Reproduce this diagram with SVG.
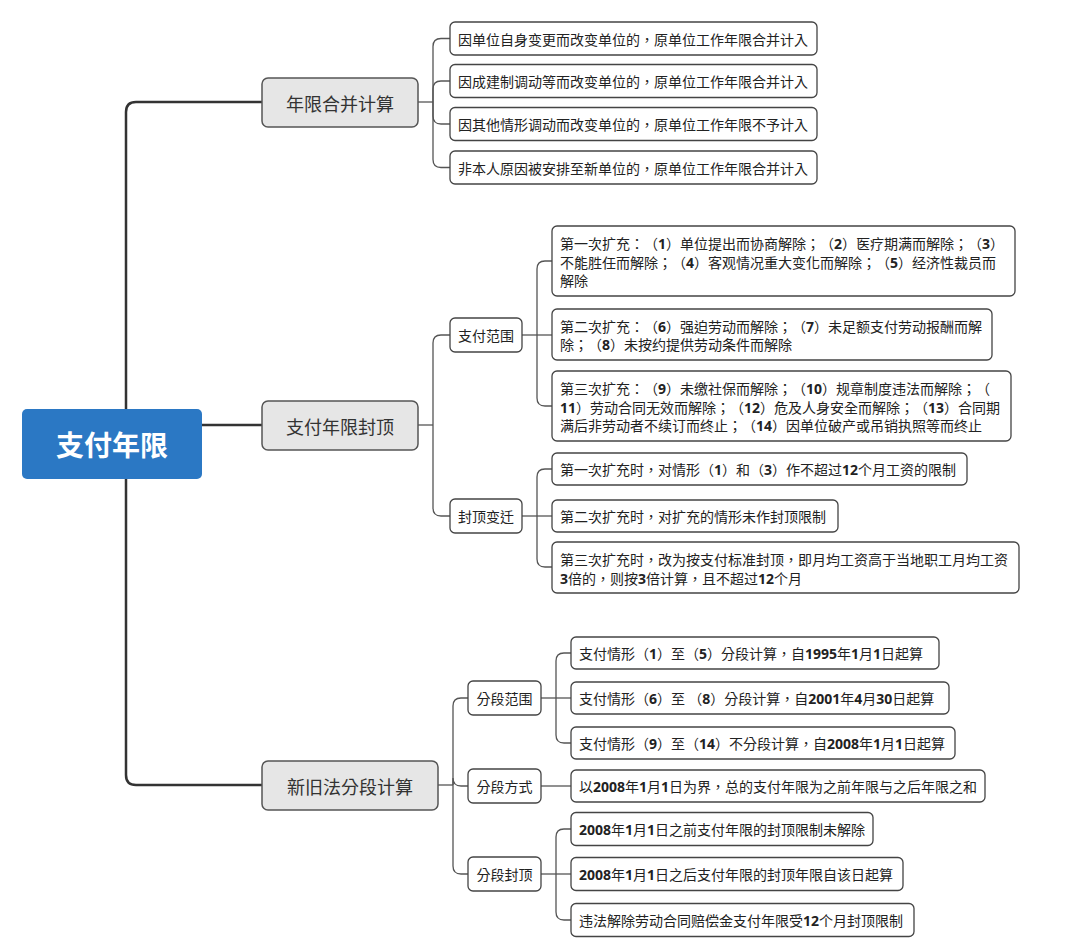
<svg xmlns="http://www.w3.org/2000/svg" width="1080" height="952" viewBox="0 0 1080 952">
<style>
text{font-family:"Noto Sans CJK TC","Noto Sans CJK SC","Noto Sans",sans-serif;text-spacing-trim:space-all;}
.root{fill:#2b78c4;}
.rt{fill:#ffffff;font-size:28px;font-weight:700;text-anchor:middle;dominant-baseline:central;}
.l2{fill:#e6e6e6;stroke:#555555;stroke-width:1.5;}
.l2t{fill:#333333;font-size:18px;text-anchor:middle;dominant-baseline:central;}
.box{fill:#ffffff;stroke:#444444;stroke-width:1.3;}
.ct{fill:#222222;font-size:14px;text-anchor:middle;dominant-baseline:central;}
.t{fill:#222222;font-size:14px;dominant-baseline:central;}
.n{font-family:"Open Sans","Noto Sans",sans-serif;font-weight:700;}
.spine{fill:none;stroke:#333333;stroke-width:2.5;}
.c{fill:none;stroke:#555555;stroke-width:1.3;}
</style>
<rect width="1080" height="952" fill="#ffffff"/>
<g id="connectors">
<path class="spine" d="M262,102 H136 Q126,102 126,112 V775 Q126,785 136,785 H262"/>
<path class="spine" d="M202,425 H262"/>
<path class="c" d="M418,102 H433"/>
<path class="c" d="M433,102 V46.5 Q433,38.5 441,38.5 H450"/>
<path class="c" d="M433,102 V89 Q433,81 441,81 H450"/>
<path class="c" d="M433,102 V116 Q433,124 441,124 H450"/>
<path class="c" d="M433,102 V159.5 Q433,167.5 441,167.5 H450"/>
<path class="c" d="M418,425 H433"/>
<path class="c" d="M433,425 V343 Q433,335 441,335 H450"/>
<path class="c" d="M433,425 V508 Q433,516 441,516 H450"/>
<path class="c" d="M522,335 H552"/>
<path class="c" d="M537,335 V269 Q537,261 545,261 H552"/>
<path class="c" d="M537,335 V398 Q537,406 545,406 H552"/>
<path class="c" d="M522,516 H552"/>
<path class="c" d="M537,516 V477 Q537,469 545,469 H552"/>
<path class="c" d="M537,516 V559 Q537,567 545,567 H552"/>
<path class="c" d="M438,785 H453"/>
<path class="c" d="M453,785 V706 Q453,698 461,698 H468"/>
<path class="c" d="M453,785 V778 Q453,786 461,786 H468"/>
<path class="c" d="M453,785 V866 Q453,874 461,874 H468"/>
<path class="c" d="M541,698 H571"/>
<path class="c" d="M556,698 V661 Q556,653 564,653 H571"/>
<path class="c" d="M556,698 V735 Q556,743 564,743 H571"/>
<path class="c" d="M541,786 H571"/>
<path class="c" d="M541,874 H571"/>
<path class="c" d="M556,874 V837 Q556,829 564,829 H571"/>
<path class="c" d="M556,874 V912 Q556,920 564,920 H571"/>
</g>
<g id="root">
<rect class="root" x="22" y="409" width="180" height="70" rx="5"/>
<text class="rt" x="112" y="444">支付年限</text>
</g>
<g id="n-nianxian">
<rect class="l2" x="262" y="78" width="156" height="49" rx="6"/>
<text class="l2t" x="340" y="102.5">年限合并计算</text>
</g>
<g id="n-fengding">
<rect class="l2" x="262" y="401" width="156" height="49" rx="6"/>
<text class="l2t" x="340" y="425.5">支付年限封顶</text>
</g>
<g id="n-fenduan">
<rect class="l2" x="262" y="761" width="176" height="49" rx="6"/>
<text class="l2t" x="350" y="785.5">新旧法分段计算</text>
</g>
<g id="a1">
<rect class="box" x="450" y="22" width="367" height="33" rx="5"/>
<text class="t" x="458" y="38.5">因单位自身变更而改变单位的，原单位工作年限合并计入</text>
</g>
<g id="a2">
<rect class="box" x="450" y="64.5" width="367" height="33" rx="5"/>
<text class="t" x="458" y="81">因成建制调动等而改变单位的，原单位工作年限合并计入</text>
</g>
<g id="a3">
<rect class="box" x="450" y="107.5" width="367" height="33" rx="5"/>
<text class="t" x="458" y="124">因其他情形调动而改变单位的，原单位工作年限不予计入</text>
</g>
<g id="a4">
<rect class="box" x="450" y="151" width="367" height="33" rx="5"/>
<text class="t" x="458" y="167.5">非本人原因被安排至新单位的，原单位工作年限合并计入</text>
</g>
<g id="b1">
<rect class="box" x="450" y="318" width="72" height="34" rx="5"/>
<text class="ct" x="486" y="335">支付范围</text>
</g>
<g id="b2">
<rect class="box" x="450" y="499" width="72" height="34" rx="5"/>
<text class="ct" x="486" y="516">封顶变迁</text>
</g>
<g id="b1-1">
<rect class="box" x="552" y="226" width="463" height="70" rx="5"/>
<text class="t" x="560" y="243">第一次扩充：（<tspan class="n">1</tspan>）单位提出而协商解除；（<tspan class="n">2</tspan>）医疗期满而解除；（<tspan class="n">3</tspan>）</text>
<text class="t" x="560" y="261.5">不能胜任而解除；（<tspan class="n">4</tspan>）客观情况重大变化而解除；（<tspan class="n">5</tspan>）经济性裁员而</text>
<text class="t" x="560" y="280">解除</text>
</g>
<g id="b1-2">
<rect class="box" x="552" y="309" width="440" height="51" rx="5"/>
<text class="t" x="560" y="326">第二次扩充：（<tspan class="n">6</tspan>）强迫劳动而解除；（<tspan class="n">7</tspan>）未足额支付劳动报酬而解</text>
<text class="t" x="560" y="344">除；（<tspan class="n">8</tspan>）未按约提供劳动条件而解除</text>
</g>
<g id="b1-3">
<rect class="box" x="552" y="371" width="459" height="70" rx="5"/>
<text class="t" x="560" y="388">第三次扩充：（<tspan class="n">9</tspan>）未缴社保而解除；（<tspan class="n">10</tspan>）规章制度违法而解除；（</text>
<text class="t" x="560" y="406.5"><tspan class="n">11</tspan>）劳动合同无效而解除；（<tspan class="n">12</tspan>）危及人身安全而解除；（<tspan class="n">13</tspan>）合同期</text>
<text class="t" x="560" y="425">满后非劳动者不续订而终止；（<tspan class="n">14</tspan>）因单位破产或吊销执照等而终止</text>
</g>
<g id="b2-1">
<rect class="box" x="552" y="453" width="415" height="32" rx="5"/>
<text class="t" x="560" y="469">第一次扩充时，对情形（<tspan class="n">1</tspan>）和（<tspan class="n">3</tspan>）作不超过<tspan class="n">12</tspan>个月工资的限制</text>
</g>
<g id="b2-2">
<rect class="box" x="552" y="500" width="286" height="32" rx="5"/>
<text class="t" x="560" y="516">第二次扩充时，对扩充的情形未作封顶限制</text>
</g>
<g id="b2-3">
<rect class="box" x="552" y="542" width="467" height="51" rx="5"/>
<text class="t" x="560" y="559">第三次扩充时，改为按支付标准封顶，即月均工资高于当地职工月均工资</text>
<text class="t" x="560" y="577.5"><tspan class="n">3</tspan>倍的，则按<tspan class="n">3</tspan>倍计算，且不超过<tspan class="n">12</tspan>个月</text>
</g>
<g id="c1">
<rect class="box" x="468" y="681" width="73" height="34" rx="5"/>
<text class="ct" x="504.5" y="698">分段范围</text>
</g>
<g id="c2">
<rect class="box" x="468" y="769" width="73" height="34" rx="5"/>
<text class="ct" x="504.5" y="786">分段方式</text>
</g>
<g id="c3">
<rect class="box" x="468" y="857" width="73" height="34" rx="5"/>
<text class="ct" x="504.5" y="874">分段封顶</text>
</g>
<g id="c1-1">
<rect class="box" x="571" y="637" width="368" height="32" rx="5"/>
<text class="t" x="579" y="653">支付情形（<tspan class="n">1</tspan>）至（<tspan class="n">5</tspan>）分段计算，自<tspan class="n">1995</tspan>年<tspan class="n">1</tspan>月<tspan class="n">1</tspan>日起算</text>
</g>
<g id="c1-2">
<rect class="box" x="571" y="682" width="378" height="32" rx="5"/>
<text class="t" x="579" y="698">支付情形（<tspan class="n">6</tspan>）至 （<tspan class="n">8</tspan>）分段计算，自<tspan class="n">2001</tspan>年<tspan class="n">4</tspan>月<tspan class="n">30</tspan>日起算</text>
</g>
<g id="c1-3">
<rect class="box" x="571" y="727" width="384" height="32" rx="5"/>
<text class="t" x="579" y="743">支付情形（<tspan class="n">9</tspan>）至（<tspan class="n">14</tspan>）不分段计算，自<tspan class="n">2008</tspan>年<tspan class="n">1</tspan>月<tspan class="n">1</tspan>日起算</text>
</g>
<g id="c2-1">
<rect class="box" x="571" y="770" width="414" height="32" rx="5"/>
<text class="t" x="579" y="786">以<tspan class="n">2008</tspan>年<tspan class="n">1</tspan>月<tspan class="n">1</tspan>日为界，总的支付年限为之前年限与之后年限之和</text>
</g>
<g id="c3-1">
<rect class="box" x="571" y="812.5" width="302" height="33" rx="5"/>
<text class="t" x="579" y="829"><tspan class="n">2008</tspan>年<tspan class="n">1</tspan>月<tspan class="n">1</tspan>日之前支付年限的封顶限制未解除</text>
</g>
<g id="c3-2">
<rect class="box" x="571" y="857.5" width="332" height="33" rx="5"/>
<text class="t" x="579" y="874"><tspan class="n">2008</tspan>年<tspan class="n">1</tspan>月<tspan class="n">1</tspan>日之后支付年限的封顶年限自该日起算</text>
</g>
<g id="c3-3">
<rect class="box" x="571" y="903.5" width="343" height="33" rx="5"/>
<text class="t" x="579" y="920">违法解除劳动合同赔偿金支付年限受<tspan class="n">12</tspan>个月封顶限制</text>
</g>
</svg>
